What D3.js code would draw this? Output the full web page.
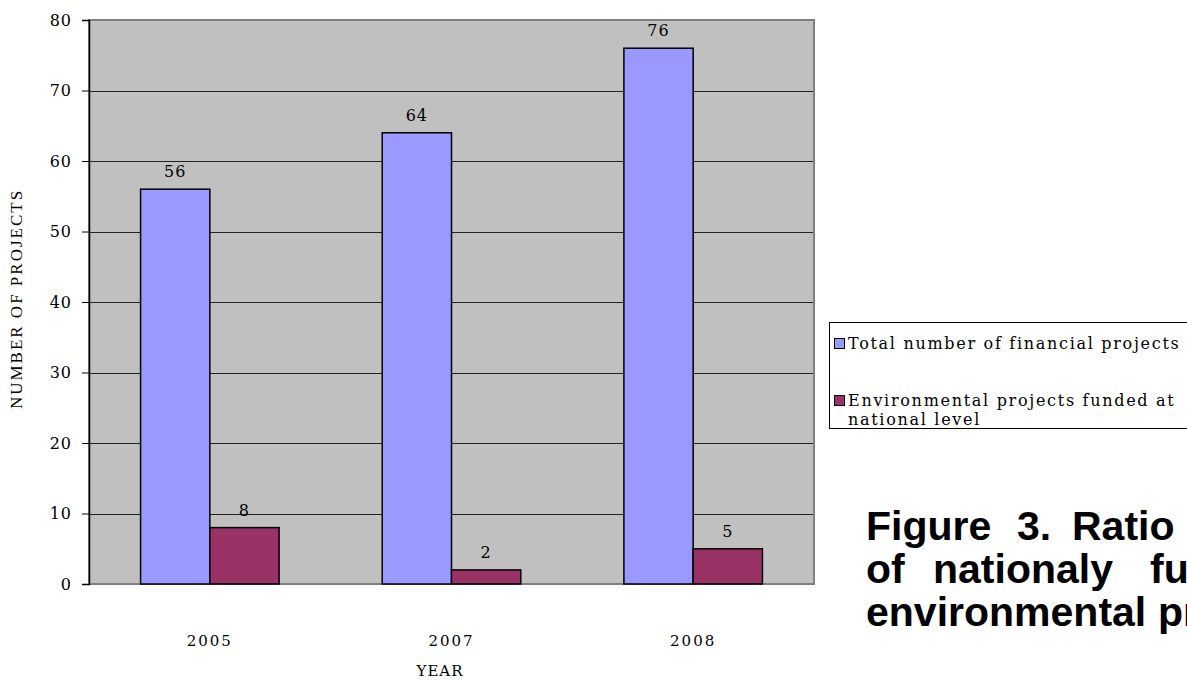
<!DOCTYPE html>
<html>
<head>
<meta charset="utf-8">
<script src="https://cdn.jsdelivr.net/npm/d3@7"></script>
<style>
  html, body { margin: 0; padding: 0; background: #fff; }
  svg { display: block; }
</style>
</head>
<body>
<svg id="chart" width="1187" height="680"></svg>
<script>
// Years on the category axis
const years = ["2005", "2007", "2008"];
// Series
const seriesNames = ["Total number of financial projects", "Environmental projects funded at national level"];
const totalProjects = [56, 64, 76];
const envProjects = [8, 2, 5];
const seriesColors = ["#9999FF", "#993366"];
// Value axis ticks
const yTicks = [0, 10, 20, 30, 40, 50, 60, 70, 80];

const svg = d3.select("#chart");
const plot = { left: 89, right: 814, top: 20, bottom: 584 };
const serif = "'DejaVu Serif', 'Liberation Serif', serif";

const x0 = d3.scaleBand().domain(years).range([plot.left, plot.right]).paddingInner(0).paddingOuter(0);
const x1 = d3.scaleBand().domain([0, 1]).range([0, x0.bandwidth()]).paddingInner(0).paddingOuter(0.7445);
const y = d3.scaleLinear().domain([0, 80]).range([plot.bottom, plot.top]);

// Plot background
svg.append("rect")
  .attr("x", plot.left).attr("y", plot.top)
  .attr("width", plot.right - plot.left).attr("height", plot.bottom - plot.top)
  .attr("fill", "#C0C0C0");

// Gridlines
svg.append("g").selectAll("line")
  .data(yTicks.filter(t => t > 0 && t < 80))
  .join("line")
  .attr("x1", plot.left).attr("x2", plot.right)
  .attr("y1", d => Math.round(y(d)) + 0.5).attr("y2", d => Math.round(y(d)) + 0.5)
  .attr("stroke", "#222").attr("stroke-width", 1);

// Plot border
svg.append("rect")
  .attr("x", plot.left).attr("y", plot.top)
  .attr("width", plot.right - plot.left).attr("height", plot.bottom - plot.top)
  .attr("fill", "none").attr("stroke", "#808080").attr("stroke-width", 2);

// Bars
const rows = years.map((yr, i) => ({ year: yr, values: [totalProjects[i], envProjects[i]] }));
const groups = svg.append("g").selectAll("g")
  .data(rows).join("g")
  .attr("transform", d => `translate(${x0(d.year)},0)`);

groups.selectAll("rect")
  .data(d => d.values.map((v, k) => ({ k, v })))
  .join("rect")
  .attr("x", d => x1(d.k))
  .attr("y", d => y(d.v))
  .attr("width", x1.bandwidth())
  .attr("height", d => y(0) - y(d.v))
  .attr("fill", d => seriesColors[d.k])
  .attr("stroke", "#000").attr("stroke-width", 1.5);

// Value labels
groups.selectAll("text")
  .data(d => d.values.map((v, k) => ({ k, v })))
  .join("text")
  .attr("x", d => x1(d.k) + x1.bandwidth() / 2)
  .attr("y", d => y(d.v) - 12)
  .attr("text-anchor", "middle")
  .attr("font-family", serif).attr("font-size", 16)
  .attr("letter-spacing", 1)
  .attr("fill", "#000")
  .text(d => d.v);

// Value axis
const yAxis = d3.axisLeft(y).tickValues(yTicks).tickSize(7).tickPadding(10);
const yg = svg.append("g").attr("transform", `translate(${plot.left},0)`).call(yAxis);
yg.select(".domain").attr("stroke", "#000").attr("stroke-width", 1.5);
yg.selectAll(".tick line").attr("stroke", "#000");
yg.selectAll(".tick text")
  .attr("font-family", serif).attr("font-size", 16)
  .attr("letter-spacing", 1).attr("fill", "#000");

// Category axis labels
const xAxis = d3.axisBottom(x0).tickSize(0).tickPadding(51);
const xg = svg.append("g").attr("transform", `translate(0,${plot.bottom})`).call(xAxis);
xg.select(".domain").remove();
xg.selectAll(".tick text")
  .attr("font-family", serif).attr("font-size", 15)
  .attr("letter-spacing", 2).attr("fill", "#000");

// Axis titles
svg.append("text")
  .attr("x", 440).attr("y", 676)
  .attr("text-anchor", "middle")
  .attr("font-family", serif).attr("font-size", 15)
  .attr("letter-spacing", 1)
  .text("YEAR");

svg.append("text")
  .attr("transform", "translate(22,299) rotate(-90)")
  .attr("text-anchor", "middle")
  .attr("font-family", "'Liberation Serif', serif").attr("font-size", 17)
  .attr("letter-spacing", 2)
  .text("NUMBER OF PROJECTS");

// Legend
const legend = svg.append("g");
legend.append("rect")
  .attr("x", 829.5).attr("y", 322.5).attr("width", 400).attr("height", 106)
  .attr("fill", "#fff").attr("stroke", "#000").attr("stroke-width", 1);

const legendRows = [
  { lines: [seriesNames[0]], y: 349 },
  { lines: ["Environmental projects funded at", "national level"], y: 406 }
];
legendRows.forEach((r, i) => {
  legend.append("rect")
    .attr("x", 834.5).attr("y", r.y - 10.5).attr("width", 10).attr("height", 10)
    .attr("fill", seriesColors[i]).attr("stroke", "#000").attr("stroke-width", 1);
  r.lines.forEach((ln, j) => {
    legend.append("text")
      .attr("x", 848).attr("y", r.y + j * 19)
      .attr("font-family", serif).attr("font-size", 16)
      .attr("letter-spacing", 1.7)
      .attr("fill", "#000")
      .text(ln);
  });
});

// Figure caption (justified column running past the right edge)
const caption = [
  { words: ["Figure", "3.", "Ratio"], xs: [866, 1017, 1072] },
  { words: ["of", "nationaly", "funded"], xs: [866, 933, 1150] },
  { words: ["environmental", "projects"], xs: [866, 1158] }
];
const cap = svg.append("g")
  .attr("font-family", "'Liberation Sans', Arial, sans-serif")
  .attr("font-weight", "bold").attr("font-size", 41).attr("fill", "#000");
caption.forEach((ln, i) => {
  ln.words.forEach((w, k) => {
    cap.append("text").attr("x", ln.xs[k]).attr("y", 540 + i * 43).text(w);
  });
});
</script>
</body>
</html>
